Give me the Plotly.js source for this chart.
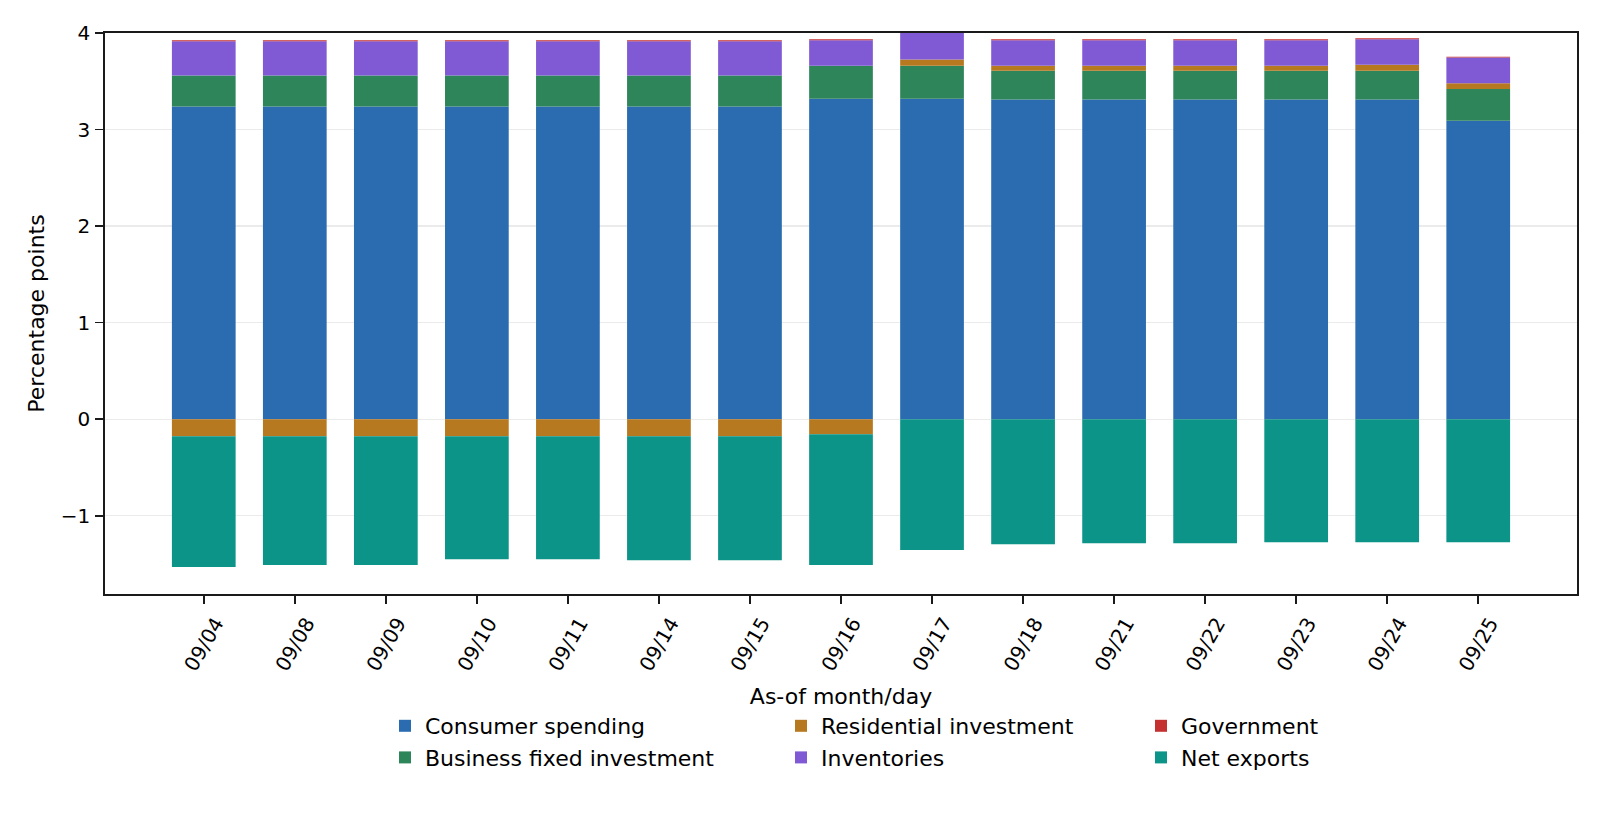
<!DOCTYPE html>
<html>
<head>
<meta charset="utf-8">
<script src="https://cdn.plot.ly/plotly-3.0.1.min.js"></script>
<style>html,body{margin:0;padding:0;background:#fff;}#chart{width:1600px;height:832px;}</style>
</head>
<body>
<div id="chart"></div>
<script>
const dates = ['09/04','09/08','09/09','09/10','09/11','09/14','09/15','09/16','09/17','09/18','09/21','09/22','09/23','09/24','09/25'];
const consumerSpending = [3.24,3.24,3.24,3.24,3.24,3.24,3.24,3.32,3.32,3.31,3.31,3.31,3.31,3.31,3.09];
const businessFixedInvestment = [0.32,0.32,0.32,0.32,0.32,0.32,0.32,0.34,0.34,0.30,0.30,0.30,0.30,0.30,0.33];
const residentialInvestment = [-0.175,-0.175,-0.175,-0.175,-0.175,-0.175,-0.175,-0.155,0.065,0.05,0.05,0.05,0.05,0.06,0.06];
const inventories = [0.355,0.355,0.355,0.355,0.355,0.355,0.355,0.265,0.28,0.265,0.265,0.265,0.265,0.265,0.265];
const government = [0.01,0.01,0.01,0.01,0.01,0.01,0.01,0.01,0.01,0.01,0.01,0.01,0.01,0.01,0.01];
const netExports = [-1.355,-1.335,-1.335,-1.275,-1.275,-1.285,-1.285,-1.355,-1.355,-1.295,-1.285,-1.285,-1.275,-1.275,-1.275];
const yTicks = [-1,0,1,2,3,4];
const yTickText = ['\u22121','0','1','2','3','4'];

const FONT = 'DejaVu Sans, sans-serif';
const series = [
  {name:'Consumer spending', y:consumerSpending, color:'#2b6cb0', legend:'legend'},
  {name:'Business fixed investment', y:businessFixedInvestment, color:'#2f855a', legend:'legend'},
  {name:'Residential investment', y:residentialInvestment, color:'#b7791f', legend:'legend2'},
  {name:'Inventories', y:inventories, color:'#805ad5', legend:'legend2'},
  {name:'Government', y:government, color:'#c53030', legend:'legend3'},
  {name:'Net exports', y:netExports, color:'#0d9488', legend:'legend3'}
];
const traces = series.map(s => ({
  type:'bar', name:s.name, x:dates, y:s.y, width:0.7,
  marker:{color:s.color, line:{width:0}}, legend:s.legend,
  hovertemplate:'%{x}: %{y}<extra>'+s.name+'</extra>'
}));

const PL = 105, PW = 1472, PB = 594, PH = 561;
const legendBase = {orientation:'v', yanchor:'top', xanchor:'left', y:-(705-PB)/PH,
  font:{family:FONT, size:22, color:'#000'}, bgcolor:'rgba(0,0,0,0)', tracegroupgap:0, traceorder:'normal'};

const layout = {
  width:1600, height:832,
  margin:{l:PL, r:1600-PL-PW, t:PB-PH, b:832-PB},
  paper_bgcolor:'#fff', plot_bgcolor:'#fff',
  barmode:'relative', bargap:0.3,
  font:{family:FONT, size:22, color:'#000'},
  xaxis:{type:'category', range:[-1.085,15.085], tickangle:-60,
    ticks:'outside', ticklen:8, tickwidth:1.6, tickcolor:'#1a1a1a',
    showline:true, linecolor:'#1a1a1a', linewidth:1.8, mirror:true,
    showgrid:false, zeroline:false, ticklabelshift:12,
    tickfont:{family:FONT, size:20, color:'#000'},
    title:{text:'As-of month/day', font:{family:FONT, size:22, color:'#000'}, standoff:14}},
  yaxis:{range:[-1.81,4], tickvals:yTicks, ticktext:yTickText,
    ticks:'outside', ticklen:8, tickwidth:1.6, tickcolor:'#1a1a1a',
    showline:true, linecolor:'#1a1a1a', linewidth:1.8, mirror:true,
    showgrid:true, gridcolor:'#ebebeb', gridwidth:1.3, zeroline:false,
    ticklabelstandoff:1,
    tickfont:{family:FONT, size:20, color:'#000'},
    title:{text:'Percentage points', font:{family:FONT, size:22, color:'#000'}, standoff:10}},
  legend: Object.assign({}, legendBase, {x:(385-PL)/PW}),
  legend2: Object.assign({}, legendBase, {x:(781-PL)/PW}),
  legend3: Object.assign({}, legendBase, {x:(1141-PL)/PW}),
  showlegend:true
};

Plotly.newPlot('chart', traces, layout, {displayModeBar:false, staticPlot:true});
</script>
</body>
</html>
